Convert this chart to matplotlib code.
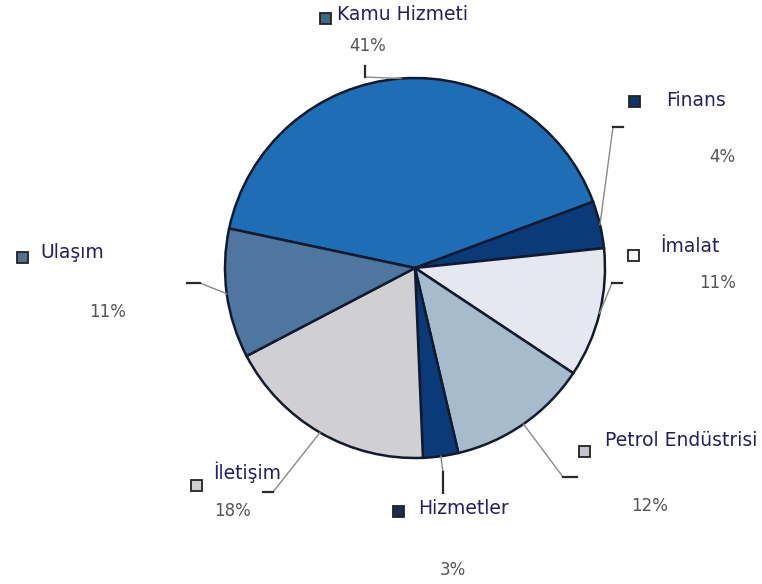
import matplotlib
matplotlib.use("Agg")
import matplotlib.pyplot as plt
import numpy as np

# Sector shares (%), clockwise from the top-left slice
sectors = ["Kamu Hizmeti", "Finans", "İmalat", "Petrol Endüstrisi",
           "Hizmetler", "İletişim", "Ulaşım"]
shares = [41, 4, 11, 12, 3, 18, 11]
pct_labels = ["41%", "4%", "11%", "12%", "3%", "18%", "11%"]

slice_colors = ["#1f6db4", "#0b3a78", "#e5e7f1", "#a6bccd",
                "#0b3a78", "#d0d0d2", "#4f769f"]
key_colors = ["#3f6587", "#0e3569", "#ffffff", "#c3c6ca",
              "#1b2f4c", "#d2d2d2", "#56718e"]

W, H = 762, 584
fig = plt.figure(figsize=(W / 100, H / 100), dpi=100)
ax = fig.add_axes([0, 0, 1, 1])

def fy(y):
    """convert top-down pixel row to axis y"""
    return H - y

cx, cy, r = 415, fy(268), 190
start = 168.0
wedges, _ = ax.pie(shares, colors=slice_colors, startangle=start,
                   counterclock=False, center=(cx, cy), radius=r,
                   wedgeprops=dict(edgecolor="#111a2e", linewidth=1.8),
                   frame=True)
ax.set_xlim(0, W)
ax.set_ylim(0, H)
ax.set_aspect("equal")
ax.axis("off")

# label layout: (key square, name position, percent position, elbow, tick end)
layout = [
    ((325, 18), (337, 14), (368, 46), (365, 77), (365, 66)),
    ((634, 101), (666, 100), (722, 157), (613, 127), (623, 127)),
    ((633, 255), (660, 247), (718, 283), (612, 283), (622, 283)),
    ((584, 451), (605, 440), (650, 506), (563, 477), (577, 477)),
    ((398, 511), (418, 508), (453, 570), (443, 472), (443, 493)),
    ((196, 485), (213, 472), (232, 511), (273, 492), (263, 492)),
    ((22, 257), (40, 252), (108, 312), (200, 283), (187, 283)),
]

for w, name, pct, kc, (sq, npos, ppos, elbow, tick) in zip(
        wedges, sectors, pct_labels, key_colors, layout):
    mid = np.deg2rad((w.theta1 + w.theta2) / 2)
    sx, sy = cx + r * np.cos(mid), cy + r * np.sin(mid)
    ax.plot([sx, elbow[0]], [sy, fy(elbow[1])], color="#8a8a8a", lw=1.0,
            zorder=1)
    ax.plot([elbow[0], tick[0]], [fy(elbow[1]), fy(tick[1])],
            color="#2a2a2a", lw=1.6, zorder=1)
    ax.add_patch(plt.Rectangle((sq[0] - 5.5, fy(sq[1]) - 5.5), 11, 11,
                               facecolor=kc, edgecolor="#222222", lw=1.3,
                               zorder=3))
    ax.text(npos[0], fy(npos[1]), name, fontsize=13.5, family="DejaVu Sans",
            color="#221f66", ha="left", va="center")
    ax.text(ppos[0], fy(ppos[1]), pct, fontsize=12, family="DejaVu Sans",
            color="#555555", ha="center", va="center")

fig.savefig("out.png", dpi=100)
